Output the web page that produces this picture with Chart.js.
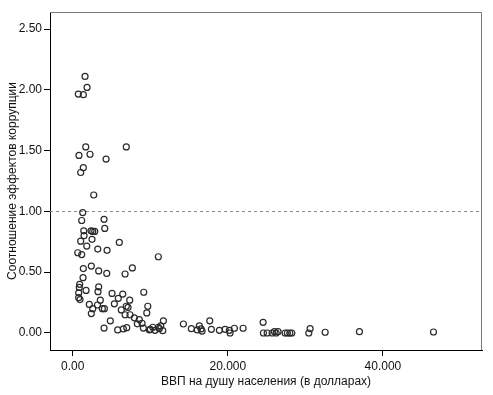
<!DOCTYPE html>
<html>
<head>
<meta charset="utf-8">
<script src="https://cdn.jsdelivr.net/npm/chart.js@4/dist/chart.umd.min.js"></script>
<style>
  html, body { margin: 0; padding: 0; background: #fff; }
</style>
</head>
<body>
<canvas id="gdpCorruption" width="493" height="395"></canvas>
<script>
// GDP per capita (USD) and corruption effect ratio, one entry per country
var gdp = [
  1590, 1850, 720, 1370, 1680, 6910, 810, 2230, 4300, 1370,
  1030, 2710, 1290, 1160, 4040, 4130, 1420, 1460, 2360, 2580,
  2840, 2490, 1030, 1810, 6010, 3230, 4430, 650, 1160, 11040,
  1370, 2400, 3350, 4390, 7690, 6750, 1330, 900, 850, 1720,
  3350, 3260, 770, 770, 940, 5070, 6450, 9160, 5880, 7350,
  3560, 5370, 2140, 3190, 6910, 9680, 2580, 3820, 4080, 6270,
  7130, 2400, 6750, 7390, 9550, 7950, 8590, 4850, 8940, 8330,
  9110, 10010, 10620, 11040, 4040, 5800, 6530, 6970, 9890, 10320,
  11170, 11350, 11690, 11610, 14270, 15300, 16070, 16330, 16550, 16680,
  17670, 17880, 18910, 19650, 20200, 20290, 20850, 21970, 24550, 24590,
  25070, 25710, 26010, 26230, 26480, 27390, 27680, 27990, 28250, 30440,
  30610, 32550, 36970, 46520
];
var ratio = [
  2.11, 2.02, 1.965, 1.96, 1.53, 1.53, 1.46, 1.47, 1.43, 1.36,
  1.32, 1.135, 0.99, 0.925, 0.935, 0.86, 0.84, 0.80, 0.84, 0.835,
  0.835, 0.77, 0.755, 0.715, 0.745, 0.69, 0.68, 0.66, 0.645, 0.627,
  0.53, 0.55, 0.51, 0.49, 0.535, 0.485, 0.455, 0.40, 0.375, 0.35,
  0.38, 0.34, 0.33, 0.29, 0.275, 0.325, 0.32, 0.335, 0.285, 0.27,
  0.27, 0.24, 0.235, 0.23, 0.22, 0.22, 0.20, 0.20, 0.20, 0.19,
  0.21, 0.16, 0.15, 0.15, 0.165, 0.125, 0.11, 0.10, 0.08, 0.075,
  0.04, 0.03, 0.022, 0.047, 0.04, 0.025, 0.033, 0.044, 0.025, 0.047,
  0.035, 0.058, 0.10, 0.019, 0.074, 0.035, 0.025, 0.058, 0.033, 0.016,
  0.10, 0.03, 0.022, 0.03, 0.022, 0.0, 0.039, 0.039, 0.088, 0.0,
  0.0, 0.0, 0.011, 0.0, 0.011, 0.0, 0.0, 0.0, 0.0, 0.0,
  0.035, 0.006, 0.011, 0.008
];
var xTicks = [0, 20000, 40000];
var xTickLabels = ['0.00', '20.000', '40.000'];
var yTicks = [0, 0.5, 1, 1.5, 2, 2.5];
var yTickLabels = ['0.00', '0.50', '1.00', '1.50', '2.00', '2.50'];
var refLine = 1;

var points = gdp.map(function (g, i) { return { x: g, y: ratio[i] }; });

// frame on top/right plus the dashed reference line
var frameAndRef = {
  id: 'frameAndRef',
  beforeDatasetsDraw: function (chart) {
    var ctx = chart.ctx;
    var a = chart.chartArea;
    var yRef = chart.scales.y.getPixelForValue(refLine);
    ctx.save();
    ctx.strokeStyle = '#8a8a8a';
    ctx.lineWidth = 1;
    ctx.setLineDash([3, 3]);
    ctx.beginPath();
    ctx.moveTo(a.left, Math.round(yRef) + 0.5);
    ctx.lineTo(a.right, Math.round(yRef) + 0.5);
    ctx.stroke();
    ctx.setLineDash([]);
    ctx.strokeStyle = '#777';
    ctx.beginPath();
    ctx.moveTo(a.left, a.top + 0.5);
    ctx.lineTo(a.right - 0.5, a.top + 0.5);
    ctx.lineTo(a.right - 0.5, a.bottom);
    ctx.stroke();
    ctx.restore();
  }
};

var ctx = document.getElementById('gdpCorruption').getContext('2d');
var chart = new Chart(ctx, {
  type: 'scatter',
  data: {
    datasets: [{
      label: 'countries',
      data: points,
      pointRadius: 3,
      pointBorderWidth: 1.2,
      pointBorderColor: '#2a2a2a',
      pointBackgroundColor: 'rgba(255,255,255,0)'
    }]
  },
  options: {
    responsive: false,
    animation: false,
    layout: { padding: { top: 12, right: 11, left: 0, bottom: 0 } },
    plugins: { legend: { display: false }, tooltip: { enabled: false } },
    scales: {
      x: {
        type: 'linear',
        min: -2929,
        max: 52774,
        afterBuildTicks: function (s) { s.ticks = xTicks.map(function (v) { return { value: v }; }); },
        afterFit: function (s) { s.height = 45; },
        border: { display: true, color: '#000', width: 1 },
        grid: { drawOnChartArea: false, tickLength: 6, color: '#000' },
        ticks: {
          padding: 3,
          color: '#111',
          font: { family: 'Liberation Sans', size: 12 },
          callback: function (v, i) { return xTickLabels[i]; }
        },
        title: {
          display: true,
          text: 'ВВП на душу населения (в долларах)',
          color: '#111',
          font: { family: 'Liberation Sans', size: 12 },
          padding: { top: 0, bottom: 6 }
        }
      },
      y: {
        type: 'linear',
        min: -0.14,
        max: 2.64,
        afterBuildTicks: function (s) { s.ticks = yTicks.map(function (v) { return { value: v }; }); },
        afterFit: function (s) { s.width = 50; },
        border: { display: true, color: '#000', width: 1 },
        grid: { drawOnChartArea: false, tickLength: 6, color: '#000' },
        ticks: {
          padding: 2,
          color: '#111',
          font: { family: 'Liberation Sans', size: 12 },
          callback: function (v, i) { return yTickLabels[i]; }
        },
        title: {
          display: true,
          text: 'Соотношение эффектов коррупции',
          color: '#111',
          font: { family: 'Liberation Sans', size: 12 },
          padding: { top: 5, bottom: 0 }
        }
      }
    }
  },
  plugins: [frameAndRef]
});
</script>
</body>
</html>
